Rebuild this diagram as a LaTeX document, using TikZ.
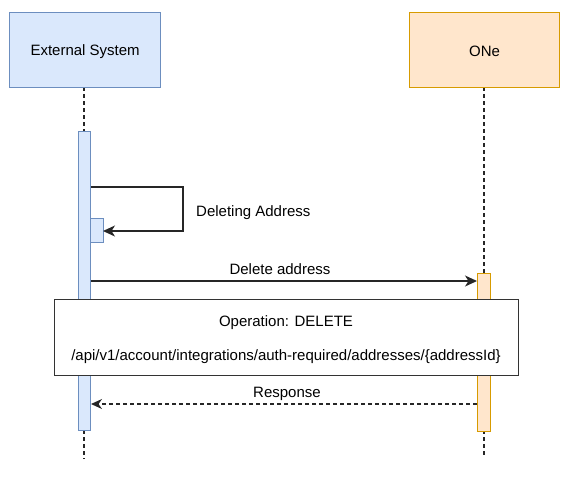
\documentclass[tikz,border=0pt]{standalone}
\usepackage{fontspec}
\setmainfont{Liberation Sans}
\usetikzlibrary{arrows.meta}
\definecolor{bfill}{HTML}{DAE8FC}
\definecolor{bdraw}{HTML}{6C8EBF}
\definecolor{ofill}{HTML}{FFE6CC}
\definecolor{odraw}{HTML}{D79B00}
\tikzset{
  every node/.style={font=\fontsize{15}{17}\selectfont, inner sep=0pt},
  bluebox/.style={draw=bdraw, fill=bfill, line width=1.3pt},
  orangebox/.style={draw=odraw, fill=ofill, line width=1.3pt},
  lifeline/.style={draw=black!85, dash pattern=on 3.5pt off 3.5pt, line width=1.3pt},
  msg/.style={draw=black!85, line width=1.3pt, -{Stealth[length=12pt,width=11pt,inset=3.5pt]}},
  resp/.style={draw=black!85, line width=1.3pt, dash pattern=on 4pt off 3pt, -{Stealth[length=11pt,width=10pt,inset=3.5pt]}},
  lbl/.style={yshift=-1.5pt},
}
\begin{document}
\begin{tikzpicture}[x=1pt,y=-1pt]
\useasboundingbox (0,0) rectangle (577,485);
% lifelines
\coordinate (extTop) at (84,87);
\coordinate (extBot) at (84,459);
\coordinate (oneTop) at (484,87);
\coordinate (oneBot) at (484,457);
\draw[lifeline] (extTop) -- (extBot);
\draw[lifeline] (oneTop) -- (oneBot);
% heads
\node[bluebox, minimum width=151pt, minimum height=75pt, anchor=north west] (ext) at (9,12) {};
\node[lbl] (extlbl) at (ext.center) {External System};
\node[orangebox, minimum width=150pt, minimum height=75pt, anchor=north west] (one) at (409,12) {};
\node[lbl] (onelbl) at (one.center) {ONe};
% activations
\node[bluebox, minimum width=12pt, minimum height=299pt, anchor=north west] (extAct) at (78,131) {};
\node[bluebox, minimum width=13pt, minimum height=24pt, anchor=north west] (extSub) at (90,218) {};
\node[orangebox, minimum width=13pt, minimum height=158pt, anchor=north west] (oneAct) at (477,273) {};
% self message
\coordinate (s1) at (91,187);
\coordinate (s2) at (183,187);
\coordinate (s3) at (183,231);
\coordinate (s4) at (103,231);
\draw[msg] (s1) -- (s2) -- (s3) -- (s4);
\node[anchor=west, lbl] (selflbl) at (196,211) {Deleting Address};
% delete message
\coordinate (m1) at (91,281);
\coordinate (m2) at (477,281);
\draw[msg] (m1) -- (m2);
\node[lbl] (dellbl) at (280,268) {Delete address};
% response
\coordinate (r1) at (477,404);
\coordinate (r2) at (91,404);
\draw[resp] (r1) -- (r2);
\node[lbl] (resplbl) at (287,392) {Response};
% operation box
\node[draw=black!80, fill=white, line width=1.3pt, minimum width=464pt, minimum height=76pt, anchor=north west] (op) at (54,299) {};
\node[lbl] (optitle) at (286,321) {Operation: DELETE};
\node[lbl] (oppath) at (286,355) {/api/v1/account/integrations/auth-required/addresses/\{addressId\}};
\end{tikzpicture}
\end{document}
